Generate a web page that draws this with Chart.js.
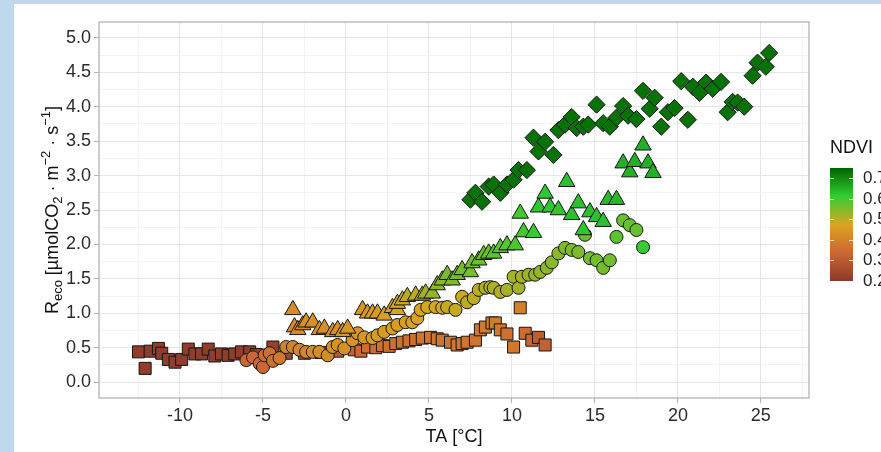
<!DOCTYPE html>
<html>
  <head>
    <title>Reco vs TA</title>
    <script src="https://cdn.jsdelivr.net/npm/chart.js"></script>
    <style>
      body {
        background: #bfd8ee;
        margin: 0;
        overflow: hidden;
      }
      #panel {
        background: #fff;
        height: 448px;
        left: 14px;
        position: absolute;
        top: 4px;
        width: 867px;
      }
    </style>
  </head>
  <body>
    <div id="panel"><canvas id="chart" width="867" height="448"></canvas></div>

    <script>
      // Squares (low NDVI)
      const squareTA   = [-12.5,-12.1,-11.8,-11.3,-11.1,-10.7,-10.3,-9.9,-9.5,-9.1,-8.7,-8.3,-7.9,-7.5,-7.1,-6.7,-6.3,-5.8,-5.4,-4.4,-3.6,-2.5,-1.5,-0.5,0.5,0.9,1.3,1.8,2.2,2.6,3.0,3.4,3.8,4.2,4.6,5.1,5.5,5.8,6.3,6.7,7.0,7.3,7.8,8.1,8.4,8.8,9.0,9.3,9.7,10.1,10.5,10.8,11.2,11.6,12.0]
      const squareReco = [0.44,0.20,0.45,0.49,0.42,0.33,0.29,0.33,0.48,0.41,0.41,0.48,0.38,0.41,0.39,0.41,0.44,0.44,0.40,0.51,0.42,0.42,0.43,0.45,0.47,0.45,0.51,0.50,0.53,0.52,0.56,0.58,0.60,0.62,0.64,0.65,0.63,0.61,0.58,0.54,0.56,0.58,0.61,0.76,0.80,0.86,0.86,0.76,0.70,0.51,1.08,0.71,0.61,0.65,0.54]
      const squareNDVI = [0.21,0.21,0.21,0.21,0.21,0.21,0.21,0.21,0.21,0.21,0.21,0.21,0.21,0.21,0.21,0.21,0.21,0.21,0.22,0.22,0.24,0.26,0.28,0.30,0.33,0.34,0.35,0.35,0.36,0.36,0.36,0.36,0.36,0.36,0.37,0.37,0.37,0.37,0.37,0.37,0.37,0.37,0.37,0.38,0.38,0.39,0.39,0.38,0.36,0.38,0.40,0.35,0.33,0.31,0.32]

      // Circles
      const circleTA   = [-6.0,-5.6,-5.2,-5.0,-4.9,-4.6,-4.4,-4.0,-3.6,-3.2,-2.8,-2.4,-2.0,-1.6,-1.1,-0.8,-0.5,-0.1,0.4,0.7,1.1,1.6,1.9,2.3,2.8,3.1,3.6,4.0,4.3,4.5,4.9,5.4,5.8,6.1,6.6,7.0,7.3,7.7,8.0,8.4,8.7,8.9,9.3,9.7,10.1,10.4,10.6,11.0,11.4,11.7,12.1,12.4,12.8,13.2,13.6,14.0,14.4,14.7,15.1,15.5,15.9,16.3,16.7,17.1,17.5,17.9]
      const circleReco = [0.32,0.36,0.27,0.22,0.39,0.42,0.31,0.35,0.51,0.51,0.47,0.44,0.44,0.44,0.39,0.51,0.54,0.49,0.61,0.71,0.65,0.64,0.68,0.73,0.78,0.83,0.87,0.87,0.93,1.05,1.09,1.09,1.08,1.09,1.05,1.24,1.16,1.22,1.34,1.37,1.38,1.37,1.31,1.34,1.53,1.37,1.53,1.56,1.56,1.60,1.66,1.74,1.87,1.95,1.92,1.89,2.14,1.80,1.77,1.66,1.77,2.11,2.35,2.28,2.21,1.96]
      const circleNDVI = [0.34,0.34,0.34,0.34,0.35,0.36,0.36,0.38,0.40,0.40,0.41,0.41,0.42,0.42,0.42,0.43,0.43,0.43,0.44,0.44,0.44,0.45,0.45,0.45,0.46,0.46,0.46,0.47,0.47,0.47,0.48,0.48,0.48,0.49,0.49,0.49,0.50,0.50,0.50,0.51,0.51,0.51,0.51,0.52,0.52,0.52,0.52,0.53,0.53,0.53,0.54,0.54,0.54,0.55,0.55,0.55,0.57,0.56,0.56,0.56,0.56,0.58,0.57,0.57,0.57,0.61]

      // Triangles
      const triangleTA   = [-3.2,-3.1,-2.9,-2.6,-2.4,-2.0,-1.6,-1.3,-0.8,-0.5,-0.2,0.1,1.0,1.3,1.6,1.9,2.3,2.8,3.1,3.1,3.4,3.7,4.2,4.6,4.8,5.2,5.5,5.8,6.1,6.4,6.7,7.0,7.5,7.6,8.0,8.3,8.6,8.9,9.3,9.7,10.2,10.5,10.7,11.3,11.6,12.0,12.3,12.8,13.3,13.6,14.0,14.3,14.7,15.1,15.5,15.8,16.3,16.7,17.1,17.4,17.9,18.2,18.5]
      const triangleReco = [1.05,0.80,0.76,0.83,0.87,0.87,0.76,0.78,0.73,0.76,0.73,0.78,1.05,1.00,1.00,1.00,0.97,1.08,1.05,1.14,1.19,1.24,1.26,1.26,1.29,1.29,1.41,1.48,1.56,1.48,1.56,1.63,1.60,1.73,1.77,1.85,1.87,1.87,1.95,1.99,1.99,2.45,2.18,2.17,2.54,2.74,2.54,2.50,2.91,2.43,2.60,2.21,2.47,2.40,2.33,2.65,2.65,3.18,3.05,3.20,3.44,3.18,3.04]
      const triangleNDVI = [0.42,0.42,0.42,0.42,0.43,0.43,0.43,0.43,0.43,0.43,0.44,0.44,0.44,0.45,0.45,0.45,0.46,0.47,0.47,0.48,0.49,0.50,0.50,0.51,0.52,0.53,0.54,0.54,0.55,0.55,0.55,0.56,0.56,0.56,0.57,0.57,0.57,0.58,0.58,0.58,0.59,0.60,0.60,0.61,0.62,0.62,0.62,0.62,0.63,0.63,0.63,0.62,0.63,0.63,0.63,0.64,0.64,0.65,0.65,0.65,0.65,0.65,0.65]

      // Diamonds (high NDVI)
      const diamondTA   = [7.5,7.8,8.2,8.6,8.9,9.3,9.7,10.1,10.4,10.9,11.3,11.6,12.0,12.5,12.8,13.2,13.6,13.9,14.3,14.6,15.1,15.5,15.9,16.3,16.7,17.0,17.5,17.9,18.3,18.6,19.0,19.4,19.8,20.2,20.6,20.9,21.3,21.7,22.1,22.6,23.0,23.3,23.6,24.0,24.5,24.8,25.3,25.5]
      const diamondReco = [2.65,2.75,2.62,2.84,2.87,2.75,2.87,2.94,3.08,3.08,3.55,3.35,3.49,3.30,3.66,3.74,3.85,3.69,3.71,3.74,4.03,3.76,3.71,3.84,4.01,3.87,3.82,4.23,3.97,4.13,3.71,3.92,3.98,4.37,3.81,4.29,4.20,4.35,4.26,4.36,3.92,4.07,4.06,4.00,4.45,4.64,4.58,4.78]
      const diamondNDVI = [0.73,0.73,0.73,0.73,0.73,0.73,0.73,0.73,0.73,0.73,0.73,0.73,0.73,0.73,0.73,0.73,0.73,0.73,0.73,0.73,0.73,0.73,0.73,0.73,0.73,0.73,0.73,0.73,0.73,0.73,0.73,0.73,0.73,0.73,0.73,0.73,0.73,0.73,0.73,0.73,0.73,0.73,0.73,0.73,0.73,0.73,0.73,0.73]

      // Axis grid positions and colour bar labels
      const xGrid = [-12.5,-10,-7.5,-5,-2.5,0,2.5,5,7.5,10,12.5,15,17.5,20,22.5,25,27.5]
      const yGrid = [0,0.25,0.5,0.75,1,1.25,1.5,1.75,2,2.25,2.5,2.75,3,3.25,3.5,3.75,4,4.25,4.5,4.75,5]
      const ndviLabels = [0.2,0.3,0.4,0.5,0.6,0.7]

      // NDVI colour scale
      const ndviStops  = [0.2, 0.3375, 0.475, 0.6125, 0.75]
      const ndviColors = [[139,58,42],[204,102,51],[218,165,32],[50,205,50],[0,100,0]]

      const FONT = '"Liberation Sans", Arial, sans-serif'

      function ndviColor(v) {
        let i = 0
        while (i < ndviStops.length - 2 && v > ndviStops[i + 1]) i++
        let t = (v - ndviStops[i]) / (ndviStops[i + 1] - ndviStops[i])
        t = Math.max(0, Math.min(1, t))
        const a = ndviColors[i], b = ndviColors[i + 1]
        const c = a.map((x, k) => Math.round(x + (b[k] - x) * t))
        return `rgb(${c[0]},${c[1]},${c[2]})`
      }

      function makeSet(label, ta, reco, ndvi, style, radius) {
        return {
          label: label,
          data: ta.map((x, i) => ({ x: x, y: reco[i] })),
          pointStyle: style,
          pointRadius: radius,
          pointBackgroundColor: ndvi.map(ndviColor),
          pointBorderColor: '#151515',
          pointBorderWidth: 1,
          showLine: false
        }
      }

      const isMajorX = v => Math.abs(v / 5 - Math.round(v / 5)) < 1e-6
      const isMajorY = v => Math.abs(v * 2 - Math.round(v * 2)) < 1e-6

      // Axis titles, panel border and the NDVI colour bar
      const extras = {
        id: 'extras',
        afterDatasetsDraw(chart) {
          const ctx = chart.ctx
          const a = chart.chartArea
          ctx.save()
          ctx.strokeStyle = '#b3b3b3'
          ctx.lineWidth = 1.3
          ctx.strokeRect(a.left, a.top, a.right - a.left, a.bottom - a.top)
          ctx.restore()
        },
        afterDraw(chart) {
          const ctx = chart.ctx
          const a = chart.chartArea
          ctx.save()
          ctx.fillStyle = '#111'

          // x title
          ctx.font = '18px ' + FONT
          ctx.textAlign = 'center'
          ctx.textBaseline = 'middle'
          ctx.fillText('TA [°C]', (a.left + a.right) / 2, 433)

          // y title with sub/superscripts
          const parts = [
            ['R', 18, 0], ['eco', 13, 4], [' [µmolCO', 18, 0], ['2', 13, 4],
            [' · m', 18, 0], ['−2', 13, -8], [' · s', 18, 0], ['−1', 13, -8], [']', 18, 0]
          ]
          let total = 0
          parts.forEach(p => { ctx.font = p[1] + 'px ' + FONT; total += ctx.measureText(p[0]).width })
          ctx.translate(44, (a.top + a.bottom) / 2)
          ctx.rotate(-Math.PI / 2)
          ctx.textAlign = 'left'
          ctx.textBaseline = 'alphabetic'
          let x = -total / 2
          parts.forEach(p => {
            ctx.font = p[1] + 'px ' + FONT
            ctx.fillText(p[0], x, p[2])
            x += ctx.measureText(p[0]).width
          })
          ctx.restore()

          // colour bar
          const bx = 816, by = 164, bw = 23, bh = 113
          const lo = ndviStops[0], hi = ndviStops[ndviStops.length - 1]
          const yOf = v => by + (hi - v) / (hi - lo) * bh
          ctx.save()
          const g = ctx.createLinearGradient(0, by + bh, 0, by)
          ndviStops.forEach((s, i) => {
            const c = ndviColors[i]
            g.addColorStop((s - lo) / (hi - lo), `rgb(${c[0]},${c[1]},${c[2]})`)
          })
          ctx.fillStyle = g
          ctx.fillRect(bx, by, bw, bh)
          ctx.strokeStyle = 'rgba(255,255,255,0.8)'
          ctx.lineWidth = 1
          ctx.fillStyle = '#222'
          ctx.font = '17px ' + FONT
          ctx.textAlign = 'left'
          ctx.textBaseline = 'middle'
          ndviLabels.forEach(v => {
            const y = Math.round(yOf(v)) + 0.5
            ctx.beginPath()
            ctx.moveTo(bx, y); ctx.lineTo(bx + 4, y)
            ctx.moveTo(bx + bw - 4, y); ctx.lineTo(bx + bw, y)
            ctx.stroke()
            ctx.fillText(v.toFixed(1), bx + bw + 10, yOf(v))
          })
          ctx.fillStyle = '#111'
          ctx.font = '18px ' + FONT
          ctx.fillText('NDVI', bx, 144)
          ctx.restore()
        }
      }

      const chart = new Chart(document.getElementById('chart'), {
        type: 'scatter',
        data: {
          datasets: [
            makeSet('squares', squareTA, squareReco, squareNDVI, 'rect', 8.5),
            makeSet('circles', circleTA, circleReco, circleNDVI, 'circle', 6.5),
            makeSet('triangles', triangleTA, triangleReco, triangleNDVI, 'triangle', 9.5),
            makeSet('diamonds', diamondTA, diamondReco, diamondNDVI, 'rectRot', 8.6)
          ].reverse()
        },
        options: {
          responsive: false,
          animation: false,
          events: [],
          layout: { padding: { left: 0, top: 18, right: 72, bottom: 0 } },
          scales: {
            x: {
              type: 'linear',
              min: -14.88,
              max: 27.9,
              afterFit: s => { s.height = 54 },
              afterBuildTicks: s => { s.ticks = xGrid.map(v => ({ value: v })) },
              border: { display: false },
              grid: {
                color: c => isMajorX(c.tick.value) ? '#e6e6e6' : '#f3f3f3',
                lineWidth: 1,
                tickLength: 5,
                tickColor: c => isMajorX(c.tick.value) ? '#b3b3b3' : 'rgba(0,0,0,0)'
              },
              ticks: {
                autoSkip: false,
                maxRotation: 0,
                padding: 2,
                color: '#2b2b2b',
                font: { family: FONT, size: 18 },
                callback: v => isMajorX(v) ? String(v) : ''
              }
            },
            y: {
              type: 'linear',
              min: -0.23,
              max: 5.23,
              afterFit: s => { s.width = 85 },
              afterBuildTicks: s => { s.ticks = yGrid.map(v => ({ value: v })) },
              border: { display: false },
              grid: {
                color: c => isMajorY(c.tick.value) ? '#e6e6e6' : '#f3f3f3',
                lineWidth: 1,
                tickLength: 5,
                tickColor: c => isMajorY(c.tick.value) ? '#b3b3b3' : 'rgba(0,0,0,0)'
              },
              ticks: {
                autoSkip: false,
                padding: 3,
                color: '#2b2b2b',
                font: { family: FONT, size: 18 },
                callback: v => isMajorY(v) ? v.toFixed(1) : ''
              }
            }
          },
          plugins: {
            legend: { display: false },
            tooltip: { enabled: false }
          }
        },
        plugins: [extras]
      })
    </script>
  </body>
</html>
